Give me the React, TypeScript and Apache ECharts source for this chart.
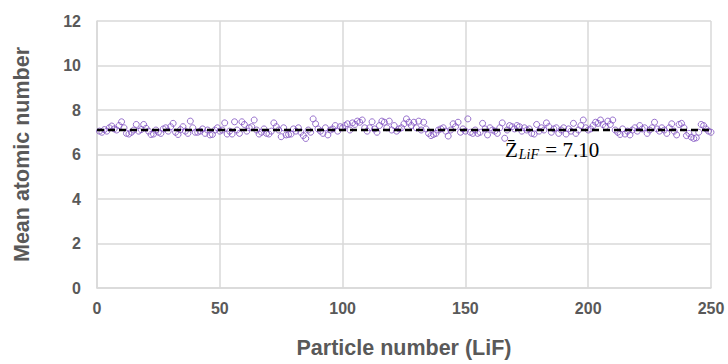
import React, { useEffect, useRef } from "react";
import * as echarts from "echarts";

const values: number[] = [
  7.05, 7.0, 7.12, 7.05, 7.2, 7.28, 7.15, 7.1, 7.3, 7.47,
  7.2, 6.95, 6.92, 7.0, 7.1, 7.35, 7.05, 7.12, 7.35, 7.18,
  7.05, 6.9, 6.92, 7.1, 7.0, 6.95, 7.15, 7.2, 7.05, 7.25,
  7.4, 7.0, 6.9, 7.12, 7.25, 7.05, 6.95, 7.5, 7.2, 7.0,
  7.0, 7.05, 7.15, 6.95, 7.1, 6.88, 6.9, 7.1, 7.2, 7.05,
  7.1, 7.42, 6.92, 7.05, 6.92, 7.47, 7.1, 6.95, 7.47, 7.35,
  7.05, 7.2, 7.25, 7.55, 7.1, 6.92, 7.0, 7.15, 6.95, 6.92,
  7.05, 7.42, 7.25, 7.1, 6.8, 7.2, 6.88, 6.9, 6.92, 7.15,
  7.05, 7.2, 7.0, 6.85, 6.72, 7.1, 7.0, 7.6, 7.38, 7.15,
  7.05, 6.95, 7.2, 6.88, 7.1, 7.15, 7.3, 7.05, 7.25, 7.2,
  7.3, 7.38, 7.1, 7.42, 7.35, 7.5, 7.45, 7.55, 7.2, 7.05,
  7.2, 7.47, 7.15, 7.0, 7.3, 7.5, 7.45, 7.2, 7.5, 7.1,
  7.3, 7.05, 7.15, 7.2, 7.38, 7.6, 7.45, 7.3, 7.45, 7.2,
  7.5, 7.1, 7.45, 7.15, 6.95, 6.85, 6.9, 6.95, 7.1, 7.15,
  7.2, 7.05, 6.83, 7.1, 7.38, 7.25, 7.45, 7.0, 7.15, 7.05,
  7.6, 7.0, 6.95, 7.1, 6.95, 7.0, 7.4, 7.15, 6.88, 7.2,
  7.1, 7.05, 6.95, 7.2, 7.42, 6.73, 7.1, 7.3, 7.25, 7.15,
  7.3, 7.25, 7.05, 7.2, 7.1, 7.15, 6.95, 6.92, 7.35, 7.05,
  7.2, 7.1, 7.42, 7.25, 7.0, 7.15, 7.2, 6.95, 7.1, 7.2,
  6.92, 7.15, 7.05, 7.4, 6.95, 7.1, 7.3, 7.55, 7.2, 7.1,
  7.15, 7.3, 7.45, 7.4, 7.55, 7.35, 7.25, 7.5, 7.35, 7.55,
  7.1, 7.0, 6.9, 7.15, 6.92, 7.05, 6.88, 7.1, 7.2, 7.05,
  7.3, 7.15, 7.2, 6.95, 7.1, 7.2, 7.45, 7.15, 7.05, 7.2,
  7.1, 6.95, 7.2, 7.38, 7.05, 6.88, 7.35, 7.4, 7.2, 6.85,
  6.95, 6.78, 6.72, 6.75, 7.0, 7.35, 7.3, 7.15, 7.05, 7.0,
];

const meanValue = 7.1;
const xRange = [0, 250];

export default function App() {
  const ref = useRef<HTMLDivElement>(null);

  useEffect(() => {
    if (!ref.current) return;
    document.body.style.margin = "0";
    document.body.style.overflow = "hidden";
    const chart = echarts.init(ref.current, null, { renderer: "svg" });
    const points = values.map((v, i) => [i + 1, v]);
    const axisText = { fontFamily: "Liberation Sans", fontWeight: "bold", fontSize: 16, color: "#595959" };
    const nameText = { fontFamily: "Liberation Sans", fontWeight: "bold", fontSize: 21.5, color: "#595959" };
    chart.setOption({
      animation: false,
      backgroundColor: "#ffffff",
      grid: { left: 97, right: 17, top: 21, bottom: 67 },
      xAxis: {
        type: "value",
        min: 0,
        max: 250,
        interval: 50,
        name: "Particle number (LiF)",
        nameLocation: "middle",
        nameGap: 49,
        nameTextStyle: nameText,
        axisLine: { show: true, lineStyle: { color: "#d9d9d9", width: 1.5 } },
        axisTick: { show: false },
        axisLabel: { margin: 12, ...axisText },
        splitLine: { show: true, lineStyle: { color: "#d9d9d9", width: 1.5 } },
      },
      yAxis: {
        type: "value",
        min: 0,
        max: 12,
        interval: 2,
        name: "Mean atomic number",
        nameLocation: "middle",
        nameGap: 64,
        nameTextStyle: nameText,
        axisLine: { show: true, lineStyle: { color: "#d9d9d9", width: 1.5 } },
        axisTick: { show: false },
        axisLabel: { margin: 16, ...axisText },
        splitLine: { show: true, lineStyle: { color: "#d9d9d9", width: 1.5 } },
      },
      series: [
        {
          type: "scatter",
          data: points,
          symbol: "circle",
          symbolSize: 6,
          itemStyle: { color: "rgba(255,255,255,0)", borderColor: "#8050C0", borderWidth: 1 },
          z: 2,
        },
        {
          type: "line",
          data: [[xRange[0], meanValue], [xRange[1], meanValue]],
          symbol: "none",
          lineStyle: { color: "#000000", width: 2.5, type: [7, 4] },
          z: 3,
        },
      ],
      graphic: [
        {
          type: "text",
          left: 505,
          top: 139,
          style: {
            text: "{z|Z\u0304}{sub|LiF}{eq| = 7.10}",
            rich: {
              z: { fontFamily: "Liberation Serif", fontSize: 21, fill: "#000" },
              sub: { fontFamily: "Liberation Serif", fontStyle: "italic", fontSize: 14, fill: "#000", padding: [9, 1, 0, 1] },
              eq: { fontFamily: "Liberation Serif", fontSize: 21, fill: "#000" },
            },
          },
          z: 10,
        },
      ],
    });
    return () => chart.dispose();
  }, []);

  return <div ref={ref} style={{ position: "fixed", left: 0, top: 0, width: 728, height: 364 }} />;
}
